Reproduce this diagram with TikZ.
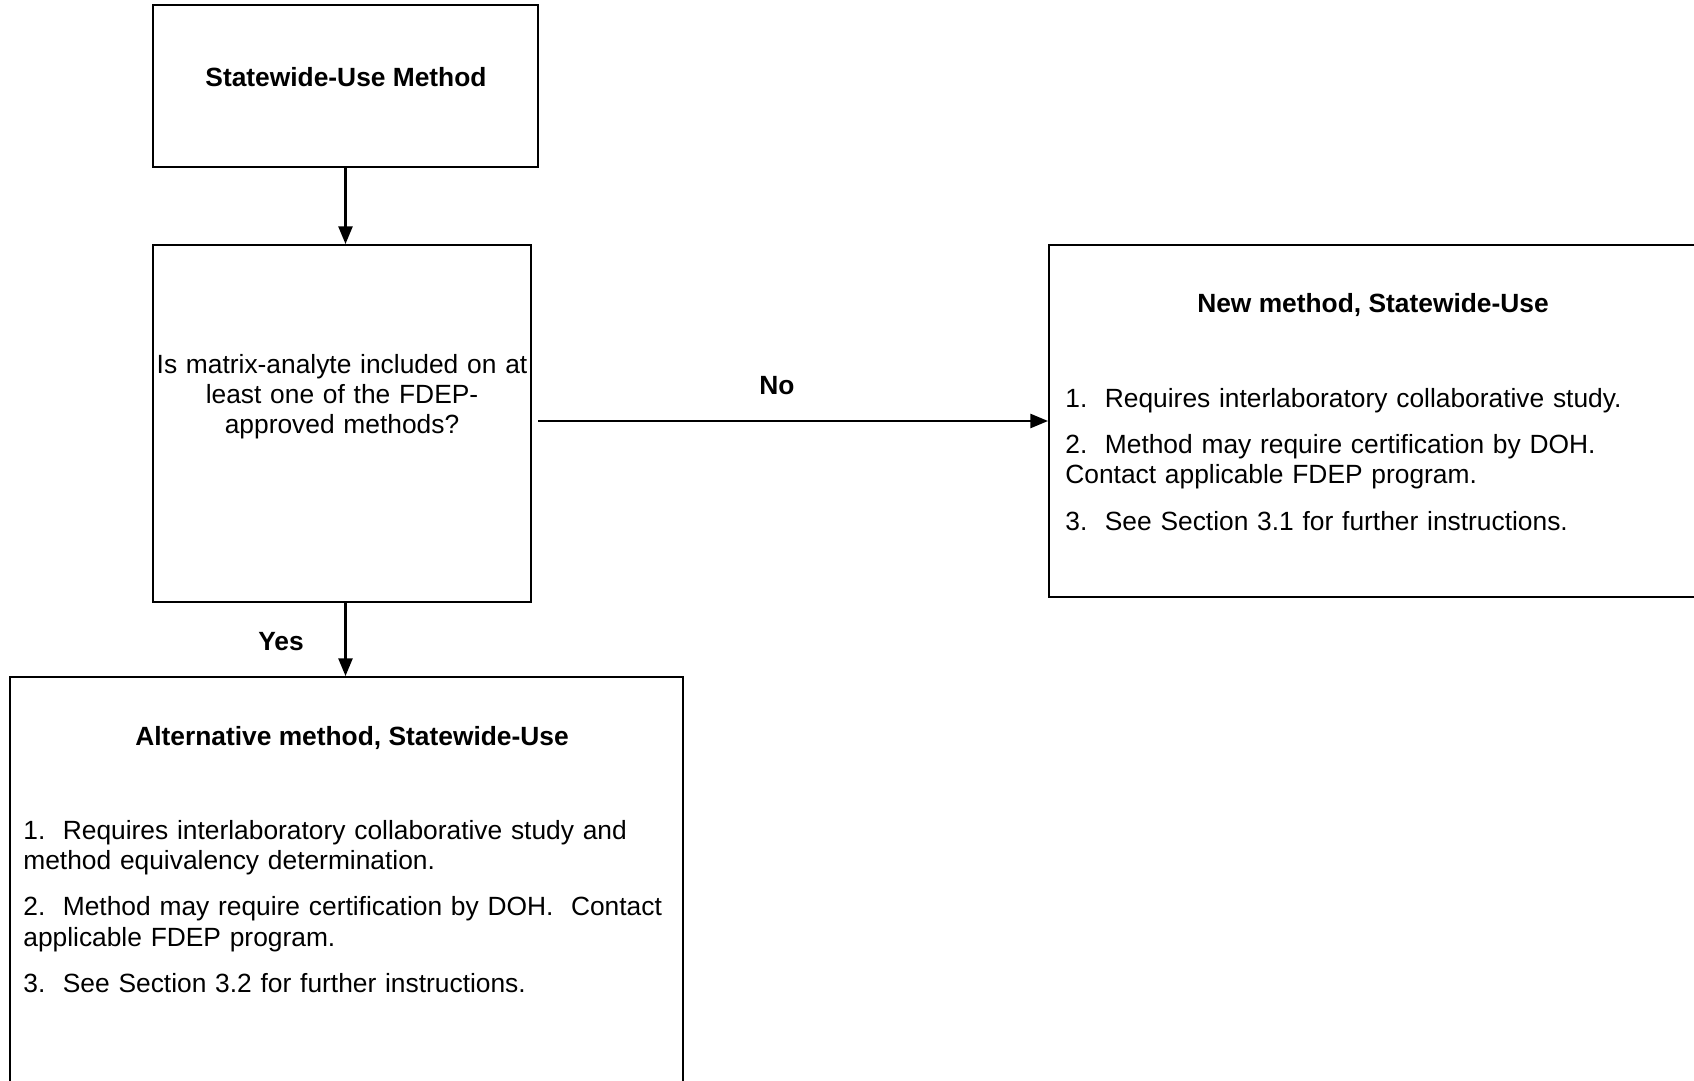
\documentclass[tikz,border=0pt]{standalone}
\usepackage{fontspec}
\setmainfont{Liberation Sans}
\usetikzlibrary{arrows.meta}

\tikzset{
  box/.style = {draw, rectangle, line width = 1.2pt, inner sep = 0pt},
  txt/.style = {inner sep = 0pt, font = \fontsize{15pt}{17.1pt}\selectfont},
  head/.style = {inner sep = 0pt, font = \fontsize{15pt}{17.1pt}\selectfont\bfseries},
  arr/.style = {line width = 1.2pt, -{Triangle[length = 10pt, width = 8pt]}}
}

\begin{document}
\begin{tikzpicture}[x = 0.02cm, y = -0.02cm]
  \useasboundingbox (0, 0) rectangle (1694, 1081);
  \clip (0, 0) rectangle (1694, 1081);

  % boxes
  \node[box, minimum width = 7.7cm, minimum height = 3.24cm] (start) at (345.5, 86) {};
  \node[box, minimum width = 7.56cm, minimum height = 7.14cm] (query) at (342, 423.5) {};
  \node[box, minimum width = 13cm, minimum height = 7.04cm] (newm) at (1374, 421) {};
  \node[box, minimum width = 13.46cm, minimum height = 8.3cm] (altm) at (346.5, 884.5) {};

  \node[head, anchor = base] (startT) at (346, 87) {Statewide-Use Method};
  \node[txt, anchor = base, text width = 8cm, align = center] (queryT) at (342, 373)
  {Is matrix-analyte included on at\\ least one of the FDEP-\\ approved methods?};

  \node[head, anchor = base] (newT) at (1373, 313) {New method, Statewide-Use};
  \node[txt, anchor = base west, text width = 12cm, align = left] (newL) at (1065, 407)
  {1.\ \ Requires interlaboratory collaborative study.\\[9.6pt]
    2.\ \ Method may require certification by DOH.\\
    Contact applicable FDEP program.\\[9.6pt]
    3.\ \ See Section 3.1 for further instructions.};

  \node[head, anchor = base] (altT) at (352, 745) {Alternative method, Statewide-Use};
  \node[txt, anchor = base west, text width = 13cm, align = left] (altL) at (23, 839)
  {1.\ \ Requires interlaboratory collaborative study and\\
    method equivalency determination.\\[9.6pt]
    2.\ \ Method may require certification by DOH.\ \ Contact\\
    applicable FDEP program.\\[9.6pt]
    3.\ \ See Section 3.2 for further instructions.};

  \node[head, anchor = base] (noL) at (777, 394) {No};
  \node[head, anchor = base] (yesL) at (281, 650) {Yes};

  % connectors
  \draw[arr] (start.south) -- (start.south |- query.north);
  \draw[arr] (start.south |- query.south) -- (start.south |- altm.north);
  \draw[arr, shorten < = 0.12cm] (newm.west -| query.east) -- (newm.west);
\end{tikzpicture}
\end{document}
